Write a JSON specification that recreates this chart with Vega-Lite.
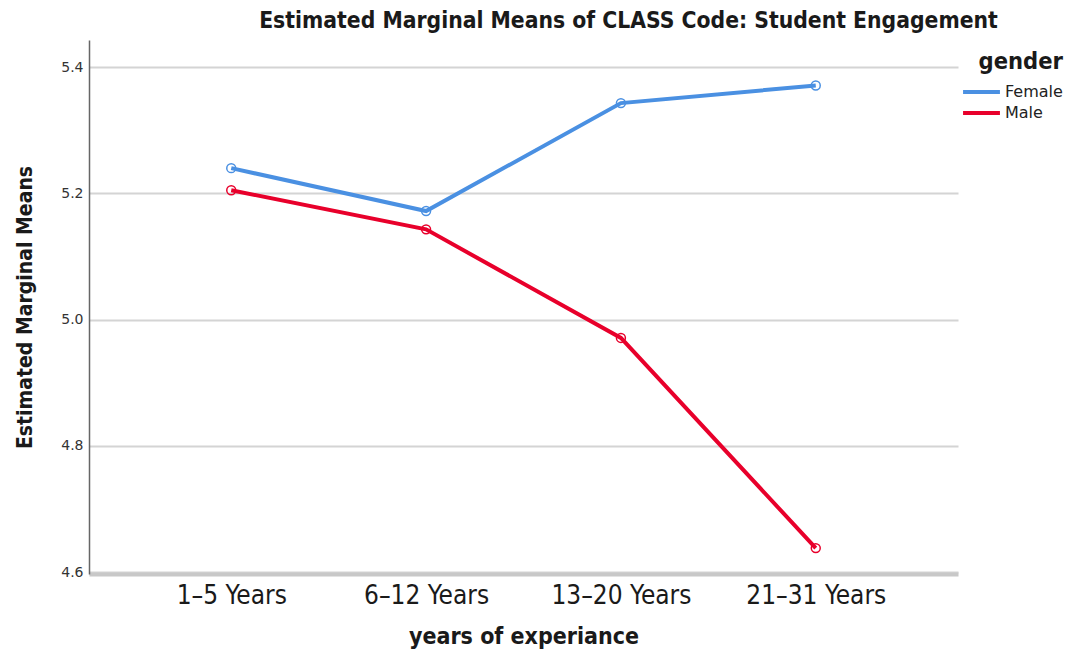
{
  "$schema": "https://vega.github.io/schema/vega-lite/v6.json",
  "width": 869,
  "height": 534,
  "autosize": {"type": "none"},
  "padding": {"left": 89, "top": 40, "right": 118, "bottom": 76},
  "background": "white",
  "title": {
    "text": "Estimated Marginal Means of CLASS Code: Student Engagement",
    "font": "Liberation Sans Narrow, DejaVu Sans Condensed, sans-serif",
    "fontSize": 22.7,
    "fontWeight": "bold",
    "color": "#1a1a1a",
    "anchor": "middle",
    "dx": 105,
    "offset": 7
  },
  "data": {
    "values": [
      {"experience": "1–5 Years", "gender": "Female", "mean": 5.240},
      {"experience": "6–12 Years", "gender": "Female", "mean": 5.172},
      {"experience": "13–20 Years", "gender": "Female", "mean": 5.343},
      {"experience": "21–31 Years", "gender": "Female", "mean": 5.371},
      {"experience": "1–5 Years", "gender": "Male", "mean": 5.205},
      {"experience": "6–12 Years", "gender": "Male", "mean": 5.143},
      {"experience": "13–20 Years", "gender": "Male", "mean": 4.971},
      {"experience": "21–31 Years", "gender": "Male", "mean": 4.638}
    ]
  },
  "encoding": {
    "x": {
      "field": "experience",
      "type": "ordinal",
      "sort": ["1–5 Years", "6–12 Years", "13–20 Years", "21–31 Years"],
      "scale": {"type": "point", "padding": 0.73},
      "axis": {
        "title": "years of experiance",
        "titleFont": "Liberation Sans Narrow, DejaVu Sans Condensed, sans-serif",
        "titleFontSize": 23,
        "titleFontWeight": "bold",
        "titleColor": "#1a1a1a",
        "titlePadding": 17,
        "labelFont": "Liberation Sans Narrow, DejaVu Sans Condensed, sans-serif",
        "labelFontSize": 26,
        "labelColor": "#1a1a1a",
        "labelAngle": 0,
        "labelPadding": 8,
        "ticks": false,
        "domainColor": "#c8c8c8",
        "domainWidth": 4,
        "grid": false
      }
    },
    "y": {
      "field": "mean",
      "type": "quantitative",
      "scale": {"domain": [4.597, 5.443], "nice": false, "zero": false},
      "axis": {
        "title": "Estimated Marginal Means",
        "titleFont": "Liberation Sans Narrow, DejaVu Sans Condensed, sans-serif",
        "titleFontSize": 21,
        "titleFontWeight": "bold",
        "titleColor": "#1a1a1a",
        "titlePadding": 25,
        "values": [4.6, 4.8, 5.0, 5.2, 5.4],
        "format": ".1f",
        "labelFont": "DejaVu Sans, sans-serif",
        "labelFontSize": 14,
        "labelColor": "#333333",
        "labelPadding": 6,
        "ticks": false,
        "domainColor": "#666666",
        "domainWidth": 1.5,
        "grid": true,
        "gridColor": "#d4d4d4",
        "gridWidth": 2
      }
    },
    "color": {
      "field": "gender",
      "type": "nominal",
      "scale": {"domain": ["Female", "Male"], "range": ["#4a90e2", "#e8002b"]}
    }
  },
  "layer": [
    {
      "mark": {"type": "line", "strokeWidth": 4},
      "encoding": {
        "color": {
          "field": "gender",
          "type": "nominal",
          "scale": {"domain": ["Female", "Male"], "range": ["#4a90e2", "#e8002b"]},
          "legend": {
            "title": "gender",
            "orient": "none",
            "legendX": 881,
            "legendY": 10,
            "titleFont": "Liberation Sans Narrow, DejaVu Sans Condensed, sans-serif",
            "titleFontSize": 23.5,
            "titleFontWeight": "bold",
            "titleColor": "#1a1a1a",
            "titleAnchor": "end",
            "titlePadding": 7,
            "labelFont": "DejaVu Sans, sans-serif",
            "labelFontSize": 16,
            "labelColor": "#222222",
            "labelOffset": 12,
            "symbolType": "M-2,0L2,0",
            "symbolSize": 340,
            "symbolStrokeWidth": 4,
            "rowPadding": 1
          }
        }
      }
    },
    {
      "mark": {"type": "point", "filled": false, "size": 80, "strokeWidth": 1.5, "opacity": 1},
      "encoding": {
        "color": {
          "field": "gender",
          "type": "nominal",
          "scale": {"domain": ["Female", "Male"], "range": ["#4a90e2", "#e8002b"]},
          "legend": null
        }
      }
    }
  ],
  "config": {
    "view": {"stroke": null}
  }
}
